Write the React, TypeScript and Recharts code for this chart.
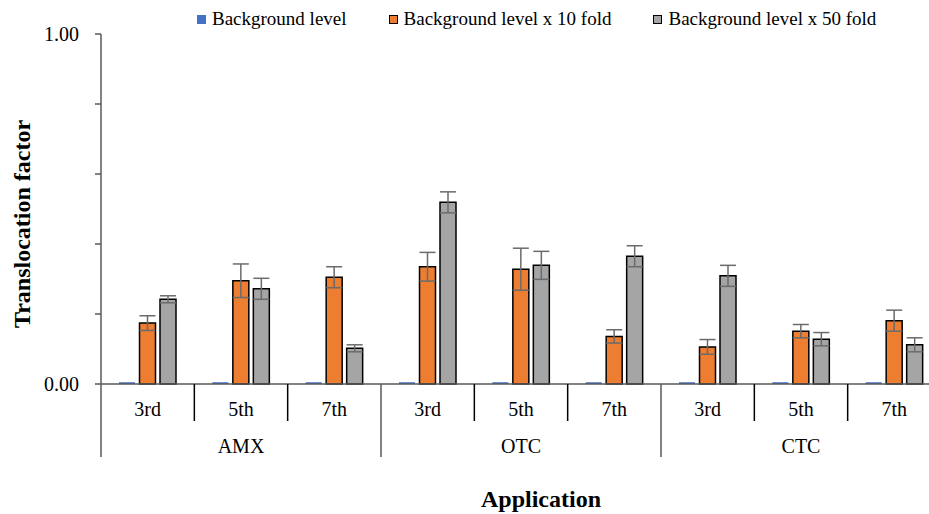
import React from 'react';
import { BarChart, Bar, XAxis, YAxis, ErrorBar } from 'recharts';

const groups = ['AMX', 'OTC', 'CTC'];
const applications = ['3rd', '5th', '7th'];

const background = [0.005, 0.005, 0.005, 0.005, 0.005, 0.005, 0.005, 0.005, 0.005];
const fold10 = [0.174, 0.295, 0.305, 0.335, 0.328, 0.136, 0.106, 0.151, 0.181];
const fold10Err = [0.021, 0.048, 0.03, 0.041, 0.06, 0.019, 0.021, 0.019, 0.03];
const fold50 = [0.242, 0.272, 0.102, 0.519, 0.339, 0.365, 0.309, 0.128, 0.112];
const fold50Err = [0.01, 0.03, 0.01, 0.03, 0.04, 0.03, 0.03, 0.019, 0.02];

const yTicks = [0, 0.2, 0.4, 0.6, 0.8, 1];

const data = groups.flatMap((group, g) =>
  applications.map((application, a) => {
    const i = g * applications.length + a;
    return {
      group,
      application,
      bg: background[i],
      f10: fold10[i],
      e10: fold10Err[i],
      f50: fold50[i],
      e50: fold50Err[i],
    };
  })
);

const CHART_W = 960;
const CHART_H = 514;
const MARGIN = { top: 34, right: 19, bottom: 0, left: 0 };
const Y_W = 101;
const X_H = 130;
const BAND = (CHART_W - MARGIN.left - MARGIN.right - Y_W) / data.length;

const FONT = '"Liberation Serif", "Times New Roman", serif';
const AXIS = '#595959';

const legendItems = [
  { label: 'Background level', color: '#4472C4', border: false },
  { label: 'Background level x 10 fold', color: '#ED7D31', border: true },
  { label: 'Background level x 50 fold', color: '#A5A5A5', border: true },
];

const AppTick = (props: any) => {
  const { x, y, index } = props;
  const row = data[index];
  const half = BAND / 2;
  const groupEnd = index % 3 === 2;
  return (
    <g>
      <text x={x} y={y + 32} textAnchor="middle" fontSize={20} fontFamily={FONT} fill="#000">
        {row.application}
      </text>
      {index === 0 && <line x1={x - half} x2={x - half} y1={y} y2={y + 73} stroke={AXIS} strokeWidth={1.5} />}
      <line
        x1={x + half}
        x2={x + half}
        y1={y}
        y2={y + (groupEnd ? 73 : 37)}
        stroke={groupEnd ? AXIS : '#000'}
        strokeWidth={1.5}
      />
      {index % 3 === 1 && (
        <text x={x} y={y + 69} textAnchor="middle" fontSize={20} fontFamily={FONT} fill="#000">
          {row.group}
        </text>
      )}
    </g>
  );
};

const XTitle = (props: any) => {
  const vb = props.viewBox;
  return (
    <text x={vb.x + 440} y={vb.y + 123} textAnchor="middle" fontSize={24} fontWeight="bold" fontFamily={FONT} fill="#000">
      Application
    </text>
  );
};

const YTitle = (props: any) => {
  const vb = props.viewBox;
  const cx = vb.x + 22;
  const cy = vb.y + vb.height / 2 + 15;
  return (
    <text
      x={cx}
      y={cy}
      transform={`rotate(-90 ${cx} ${cy})`}
      textAnchor="middle"
      dominantBaseline="central"
      fontSize={24}
      fontWeight="bold"
      fontFamily={FONT}
      fill="#000"
    >
      Translocation factor
    </text>
  );
};

const Legend = () => (
  <div
    style={{
      position: 'absolute',
      left: 197,
      top: 8,
      display: 'flex',
      alignItems: 'center',
      fontFamily: FONT,
      fontSize: 19,
      color: '#000',
      whiteSpace: 'nowrap',
    }}
  >
    {legendItems.map((it) => (
      <div key={it.label} style={{ display: 'flex', alignItems: 'center', marginRight: 42 }}>
        <span
          style={{
            display: 'inline-block',
            width: 9,
            height: 9,
            boxSizing: 'border-box',
            background: it.color,
            border: it.border ? '1px solid #000' : 'none',
            marginRight: 6,
          }}
        />
        <span>{it.label}</span>
      </div>
    ))}
  </div>
);

export default function App() {
  return (
    <div
      style={{
        position: 'absolute',
        left: 0,
        top: 0,
        width: 929,
        height: 514,
        overflow: 'hidden',
        background: '#fff',
      }}
    >
      <BarChart width={CHART_W} height={CHART_H} data={data} margin={MARGIN} barGap={4.5}>
        <XAxis
          dataKey="application"
          height={X_H}
          interval={0}
          tickLine={false}
          tickSize={0}
          tickMargin={0}
          axisLine={{ stroke: AXIS, strokeWidth: 1.5 }}
          tick={<AppTick />}
          label={<XTitle />}
        />
        <YAxis
          width={Y_W}
          domain={[0, 1]}
          ticks={yTicks}
          tickSize={6}
          tickMargin={16}
          tickFormatter={(v: number) => (v === 0 || v === 1 ? v.toFixed(2) : '')}
          tick={{ fontSize: 20, fontFamily: FONT, fill: '#000' }}
          tickLine={{ stroke: AXIS, strokeWidth: 1.5 }}
          axisLine={{ stroke: AXIS, strokeWidth: 1.5 }}
          label={<YTitle />}
        />
        <Bar dataKey="bg" fill="#4472C4" barSize={16} isAnimationActive={false} />
        <Bar dataKey="f10" fill="#ED7D31" stroke="#000" strokeWidth={1.5} barSize={16} isAnimationActive={false}>
          <ErrorBar dataKey="e10" width={8} stroke="#6b6b6b" strokeWidth={1.5} />
        </Bar>
        <Bar dataKey="f50" fill="#A5A5A5" stroke="#000" strokeWidth={1.5} barSize={16} isAnimationActive={false}>
          <ErrorBar dataKey="e50" width={8} stroke="#6b6b6b" strokeWidth={1.5} />
        </Bar>
      </BarChart>
      <Legend />
    </div>
  );
}
